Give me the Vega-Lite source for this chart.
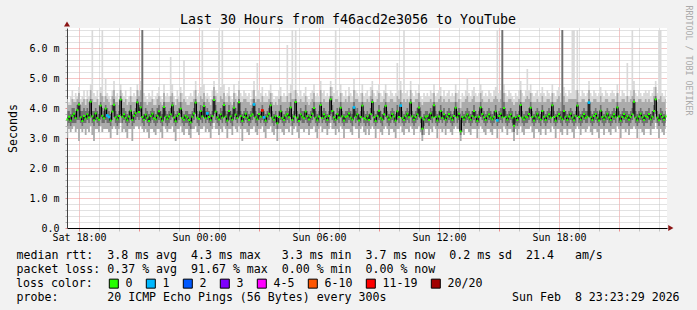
{
"$schema":"https://vega.github.io/schema/vega-lite/v6.json",
"width":600,"height":200,
"autosize":{"type":"none"},
"padding":{"left":67,"top":28,"right":30,"bottom":82},
"background":"#f2f2f2",
"config":{"view":{"fill":"white","stroke":null},"font":"DejaVu Sans Mono"},
"title":{"text":"Last 30 Hours from f46acd2e3056 to YouTube","font":"DejaVu Sans Mono","fontSize":13.3,"fontWeight":"normal","color":"black","anchor":"middle","frame":"group","dx":-19,"dy":36,"offset":4,"baseline":"alphabetic"},
"datasets":{
"smoke":[
{"m":1045,"d":3.62,"l":3.0,"a":3.4,"b":3.9,"q":4.1,"h":4.3},{"m":1050,"d":3.71,"l":3.3,"a":3.5,"b":3.9,"q":4.1,"h":4.2},{"m":1055,"d":3.58,"l":3.2,"a":3.4,"b":3.8,"q":4.1,"h":4.4},{"m":1060,"d":3.74,"l":3.3,"a":3.5,"b":4.0,"q":4.3,"h":4.6},{"m":1065,"d":3.81,"l":3.4,"a":3.5,"b":4.0,"q":4.2,"h":4.3},{"m":1070,"d":3.66,"l":3.2,"a":3.5,"b":3.9,"q":4.2,"h":4.5},{"m":1075,"d":3.93,"l":3.3,"a":3.6,"b":4.1,"q":4.3,"h":4.4},{"m":1080,"d":4.12,"l":2.9,"a":3.6,"b":4.2,"q":4.5,"h":4.7},{"m":1085,"d":3.69,"l":3.3,"a":3.5,"b":3.9,"q":4.1,"h":4.3},{"m":1090,"d":3.57,"l":3.2,"a":3.4,"b":3.9,"q":4.2,"h":4.4},{"m":1095,"d":3.73,"l":3.3,"a":3.5,"b":4.0,"q":4.3,"h":4.6},{"m":1100,"d":3.65,"l":3.1,"a":3.5,"b":3.9,"q":4.1,"h":4.3},
{"m":1105,"d":3.79,"l":3.3,"a":3.6,"b":4.0,"q":4.3,"h":4.6},{"m":1110,"d":3.68,"l":3.2,"a":3.5,"b":3.9,"q":4.2,"h":4.4},{"m":1115,"d":4.21,"l":3.4,"a":3.8,"b":4.3,"q":4.6,"h":4.8},{"m":1120,"d":3.72,"l":3.1,"a":3.5,"b":3.9,"q":4.3,"h":6.6},{"m":1125,"d":3.59,"l":2.9,"a":3.4,"b":3.9,"q":4.2,"h":4.5},{"m":1130,"d":3.82,"l":3.3,"a":3.6,"b":4.0,"q":4.2,"h":4.4},{"m":1135,"d":3.67,"l":3.3,"a":3.5,"b":3.9,"q":4.3,"h":4.6},{"m":1140,"d":3.61,"l":3.2,"a":3.4,"b":3.8,"q":4.1,"h":4.3},{"m":1145,"d":4.08,"l":3.4,"a":3.7,"b":4.2,"q":4.5,"h":4.7},{"m":1150,"d":3.74,"l":3.2,"a":3.5,"b":4.0,"q":4.4,"h":6.6},{"m":1155,"d":3.66,"l":3.3,"a":3.5,"b":3.9,"q":4.2,"h":4.4},{"m":1160,"d":3.98,"l":3.3,"a":3.6,"b":4.1,"q":4.4,"h":5.0},
{"m":1165,"d":3.75,"l":3.3,"a":3.5,"b":4.0,"q":4.3,"h":4.5},{"m":1170,"d":3.7,"l":3.2,"a":3.5,"b":3.9,"q":4.2,"h":4.4},{"m":1175,"d":3.58,"l":3.0,"a":3.4,"b":3.8,"q":4.1,"h":4.3},{"m":1180,"d":3.88,"l":3.3,"a":3.6,"b":4.1,"q":4.4,"h":4.6},{"m":1185,"d":4.11,"l":3.4,"a":3.7,"b":4.3,"q":4.6,"h":4.9},{"m":1190,"d":3.69,"l":3.3,"a":3.5,"b":3.9,"q":4.2,"h":4.4},{"m":1195,"d":3.62,"l":3.1,"a":3.4,"b":3.8,"q":4.2,"h":4.5},{"m":1200,"d":3.73,"l":3.3,"a":3.5,"b":3.9,"q":4.1,"h":4.3},{"m":1205,"d":4.28,"l":3.5,"a":3.8,"b":4.4,"q":4.6,"h":4.8},{"m":1210,"d":3.71,"l":3.2,"a":3.5,"b":4.0,"q":4.3,"h":4.5},{"m":1215,"d":3.79,"l":3.3,"a":3.6,"b":4.0,"q":4.2,"h":4.4},{"m":1220,"d":3.67,"l":3.2,"a":3.5,"b":3.9,"q":4.3,"h":4.6},
{"m":1225,"d":3.59,"l":3.0,"a":3.4,"b":3.8,"q":4.1,"h":4.3},{"m":1230,"d":3.72,"l":3.3,"a":3.5,"b":3.9,"q":4.2,"h":4.4},{"m":1235,"d":3.91,"l":3.3,"a":3.6,"b":4.1,"q":4.4,"h":4.7},{"m":1240,"d":3.6,"l":2.9,"a":3.4,"b":3.8,"q":4.2,"h":4.4},{"m":1245,"d":3.74,"l":3.3,"a":3.5,"b":3.9,"q":4.2,"h":4.5},{"m":1250,"d":3.83,"l":3.4,"a":3.6,"b":4.0,"q":4.2,"h":4.4},{"m":1255,"d":4.19,"l":3.4,"a":3.7,"b":4.3,"q":4.6,"h":4.8},{"m":1260,"d":3.87,"l":3.3,"a":3.6,"b":4.1,"q":4.4,"h":4.6},{"m":1265,"d":4.02,"l":3.4,"a":3.7,"b":4.2,"q":4.6,"h":4.9},{"m":1270,"d":3.7,"l":3.3,"a":3.5,"b":6.6,"q":6.6,"h":6.6},{"m":1275,"d":3.61,"l":3.2,"a":3.4,"b":3.8,"q":4.2,"h":4.5},{"m":1280,"d":3.78,"l":3.3,"a":3.6,"b":4.0,"q":4.2,"h":4.4},
{"m":1285,"d":3.68,"l":3.2,"a":3.5,"b":3.9,"q":4.1,"h":4.3},{"m":1290,"d":3.57,"l":3.0,"a":3.4,"b":3.8,"q":4.2,"h":4.5},{"m":1295,"d":3.73,"l":3.3,"a":3.5,"b":3.9,"q":4.2,"h":4.4},{"m":1300,"d":3.81,"l":3.3,"a":3.6,"b":4.0,"q":4.3,"h":4.6},{"m":1305,"d":3.66,"l":3.2,"a":3.5,"b":3.9,"q":4.1,"h":4.3},{"m":1310,"d":3.62,"l":3.1,"a":3.4,"b":3.8,"q":4.1,"h":4.4},{"m":1315,"d":3.74,"l":3.3,"a":3.5,"b":4.0,"q":4.3,"h":4.5},{"m":1320,"d":3.89,"l":3.3,"a":3.6,"b":4.1,"q":4.4,"h":4.7},{"m":1325,"d":3.69,"l":3.2,"a":3.5,"b":3.9,"q":4.2,"h":4.4},{"m":1330,"d":3.58,"l":3.0,"a":3.4,"b":3.8,"q":4.1,"h":4.3},{"m":1335,"d":4.03,"l":3.4,"a":3.7,"b":4.2,"q":4.5,"h":4.8},{"m":1340,"d":3.71,"l":3.3,"a":3.5,"b":3.9,"q":4.2,"h":4.4},
{"m":1345,"d":3.63,"l":3.2,"a":3.4,"b":3.8,"q":4.2,"h":4.5},{"m":1350,"d":3.72,"l":3.3,"a":3.5,"b":3.9,"q":4.2,"h":4.4},{"m":1355,"d":3.79,"l":3.3,"a":3.6,"b":4.0,"q":4.4,"h":5.7},{"m":1360,"d":4.09,"l":3.4,"a":3.7,"b":4.2,"q":4.5,"h":4.8},{"m":1365,"d":3.68,"l":3.2,"a":3.5,"b":3.9,"q":4.2,"h":4.4},{"m":1370,"d":3.56,"l":2.9,"a":3.4,"b":3.8,"q":4.1,"h":4.3},{"m":1375,"d":3.73,"l":3.3,"a":3.5,"b":3.9,"q":4.3,"h":4.6},{"m":1380,"d":3.8,"l":3.3,"a":3.6,"b":4.0,"q":4.2,"h":4.4},{"m":1385,"d":3.98,"l":3.4,"a":3.7,"b":4.2,"q":4.5,"h":4.7},{"m":1390,"d":3.67,"l":3.2,"a":3.5,"b":3.9,"q":4.2,"h":4.5},{"m":1395,"d":3.61,"l":3.1,"a":3.4,"b":3.8,"q":4.3,"h":5.6},{"m":1400,"d":3.74,"l":3.3,"a":3.5,"b":3.9,"q":4.2,"h":4.4},
{"m":1405,"d":3.69,"l":3.3,"a":3.5,"b":3.9,"q":4.1,"h":4.3},{"m":1410,"d":3.6,"l":3.1,"a":3.4,"b":3.8,"q":4.1,"h":4.4},{"m":1415,"d":3.52,"l":3.0,"a":3.3,"b":3.8,"q":4.2,"h":4.5},{"m":1420,"d":3.71,"l":3.3,"a":3.5,"b":3.9,"q":4.2,"h":4.4},{"m":1425,"d":3.82,"l":3.3,"a":3.6,"b":4.0,"q":4.3,"h":4.6},{"m":1430,"d":4.18,"l":3.4,"a":3.8,"b":4.3,"q":4.6,"h":4.9},{"m":1435,"d":3.68,"l":3.2,"a":3.5,"b":3.9,"q":4.2,"h":4.4},{"m":1440,"d":3.63,"l":3.1,"a":3.4,"b":3.8,"q":4.2,"h":4.5},{"m":1445,"d":3.9,"l":3.3,"a":3.6,"b":4.1,"q":4.4,"h":4.7},{"m":1450,"d":3.72,"l":3.3,"a":3.5,"b":3.9,"q":4.3,"h":6.6},{"m":1455,"d":4.07,"l":3.4,"a":3.7,"b":4.2,"q":4.5,"h":4.8},{"m":1460,"d":3.66,"l":3.2,"a":3.5,"b":3.9,"q":4.2,"h":4.4},
{"m":1465,"d":3.82,"l":3.3,"a":3.6,"b":4.0,"q":4.3,"h":4.5},{"m":1470,"d":3.7,"l":3.2,"a":3.5,"b":3.9,"q":4.2,"h":4.4},{"m":1475,"d":3.59,"l":3.0,"a":3.4,"b":3.8,"q":4.1,"h":4.3},{"m":1480,"d":3.73,"l":3.3,"a":3.5,"b":3.9,"q":4.3,"h":4.6},{"m":1485,"d":4.27,"l":3.5,"a":3.8,"b":4.4,"q":4.7,"h":4.9},{"m":1490,"d":3.88,"l":3.3,"a":3.6,"b":4.1,"q":4.4,"h":4.6},{"m":1495,"d":3.69,"l":3.3,"a":3.5,"b":3.9,"q":4.2,"h":4.5},{"m":1500,"d":3.62,"l":3.1,"a":3.4,"b":3.8,"q":4.2,"h":6.6},{"m":1505,"d":3.79,"l":3.3,"a":3.6,"b":4.0,"q":4.4,"h":4.7},{"m":1510,"d":3.68,"l":3.2,"a":3.5,"b":3.9,"q":4.3,"h":6.6},{"m":1515,"d":4.1,"l":3.4,"a":3.7,"b":4.2,"q":4.5,"h":4.8},{"m":1520,"d":3.71,"l":3.3,"a":3.5,"b":3.9,"q":4.2,"h":4.4},
{"m":1525,"d":3.58,"l":3.0,"a":3.4,"b":3.8,"q":4.2,"h":4.5},{"m":1530,"d":3.9,"l":3.3,"a":3.6,"b":4.1,"q":4.4,"h":4.7},{"m":1535,"d":3.72,"l":3.3,"a":3.5,"b":3.9,"q":4.2,"h":4.4},{"m":1540,"d":3.61,"l":3.1,"a":3.4,"b":3.8,"q":4.1,"h":4.3},{"m":1545,"d":4.01,"l":3.4,"a":3.7,"b":4.2,"q":4.5,"h":4.8},{"m":1550,"d":3.78,"l":3.3,"a":3.6,"b":4.0,"q":4.3,"h":4.5},{"m":1555,"d":3.67,"l":3.2,"a":3.5,"b":3.9,"q":4.2,"h":4.4},{"m":1560,"d":4.19,"l":3.4,"a":3.8,"b":4.3,"q":4.6,"h":4.9},{"m":1565,"d":3.73,"l":3.3,"a":3.5,"b":3.9,"q":4.2,"h":4.5},{"m":1570,"d":3.57,"l":2.9,"a":3.4,"b":3.8,"q":4.2,"h":4.4},{"m":1575,"d":3.7,"l":3.3,"a":3.5,"b":3.9,"q":4.3,"h":4.6},{"m":1580,"d":3.81,"l":3.3,"a":3.6,"b":4.0,"q":4.3,"h":4.5},
{"m":1585,"d":3.68,"l":3.2,"a":3.5,"b":3.9,"q":4.2,"h":4.4},{"m":1590,"d":3.6,"l":3.1,"a":3.4,"b":3.8,"q":4.2,"h":4.5},{"m":1595,"d":3.74,"l":3.3,"a":3.5,"b":3.9,"q":4.1,"h":4.3},{"m":1600,"d":3.79,"l":3.3,"a":3.6,"b":4.0,"q":4.3,"h":4.6},{"m":1605,"d":4.12,"l":3.4,"a":3.7,"b":4.3,"q":4.6,"h":4.9},{"m":1610,"d":3.69,"l":3.2,"a":3.5,"b":3.9,"q":4.2,"h":4.4},{"m":1615,"d":3.62,"l":3.1,"a":3.4,"b":3.8,"q":4.3,"h":5.5},{"m":1620,"d":3.8,"l":3.3,"a":3.6,"b":4.0,"q":4.3,"h":4.6},{"m":1625,"d":3.71,"l":3.3,"a":3.5,"b":3.9,"q":4.2,"h":4.5},{"m":1630,"d":3.92,"l":3.4,"a":3.6,"b":4.1,"q":4.4,"h":4.7},{"m":1635,"d":3.69,"l":3.2,"a":3.5,"b":3.9,"q":4.2,"h":4.4},{"m":1640,"d":3.58,"l":3.0,"a":3.4,"b":3.8,"q":4.2,"h":4.5},
{"m":1645,"d":3.72,"l":3.3,"a":3.5,"b":3.9,"q":4.2,"h":4.4},{"m":1650,"d":3.81,"l":3.3,"a":3.6,"b":4.0,"q":4.3,"h":4.6},{"m":1655,"d":4.09,"l":3.4,"a":3.7,"b":4.2,"q":4.5,"h":4.8},{"m":1660,"d":3.68,"l":3.2,"a":3.5,"b":3.9,"q":4.2,"h":4.5},{"m":1665,"d":3.61,"l":3.1,"a":3.4,"b":3.8,"q":4.1,"h":4.3},{"m":1670,"d":3.73,"l":3.3,"a":3.5,"b":3.9,"q":4.2,"h":4.4},{"m":1675,"d":3.49,"l":2.9,"a":3.3,"b":3.7,"q":4.1,"h":4.4},{"m":1680,"d":3.7,"l":3.3,"a":3.5,"b":3.9,"q":4.3,"h":4.6},{"m":1685,"d":3.89,"l":3.3,"a":3.6,"b":4.1,"q":4.4,"h":4.7},{"m":1690,"d":3.67,"l":3.2,"a":3.5,"b":3.9,"q":4.2,"h":4.4},{"m":1695,"d":3.6,"l":3.1,"a":3.4,"b":3.8,"q":4.2,"h":4.5},{"m":1700,"d":3.74,"l":3.3,"a":3.5,"b":3.9,"q":4.2,"h":4.4},
{"m":1705,"d":3.8,"l":3.3,"a":3.6,"b":4.0,"q":4.4,"h":6.1},{"m":1710,"d":3.69,"l":3.2,"a":3.5,"b":3.9,"q":4.2,"h":4.5},{"m":1715,"d":4.02,"l":3.4,"a":3.7,"b":4.2,"q":4.5,"h":4.8},{"m":1720,"d":3.6,"l":3.1,"a":3.4,"b":3.8,"q":4.3,"h":6.6},{"m":1725,"d":3.72,"l":3.3,"a":3.5,"b":3.9,"q":4.3,"h":4.6},{"m":1730,"d":4.2,"l":3.4,"a":3.8,"b":4.3,"q":4.6,"h":6.6},{"m":1735,"d":3.68,"l":3.2,"a":3.5,"b":3.9,"q":4.2,"h":4.5},{"m":1740,"d":3.57,"l":3.0,"a":3.4,"b":3.8,"q":4.2,"h":4.4},{"m":1745,"d":3.79,"l":3.3,"a":3.6,"b":4.0,"q":4.3,"h":4.6},{"m":1750,"d":3.71,"l":3.3,"a":3.5,"b":3.9,"q":4.2,"h":4.4},{"m":1755,"d":3.66,"l":3.2,"a":3.5,"b":3.9,"q":4.2,"h":4.5},{"m":1760,"d":3.88,"l":3.3,"a":3.6,"b":4.1,"q":4.4,"h":4.7},
{"m":1765,"d":3.73,"l":3.3,"a":3.5,"b":3.9,"q":4.2,"h":4.4},{"m":1770,"d":3.62,"l":3.1,"a":3.4,"b":3.8,"q":4.1,"h":4.3},{"m":1775,"d":3.7,"l":3.3,"a":3.5,"b":3.9,"q":4.2,"h":4.5},{"m":1780,"d":3.81,"l":3.3,"a":3.6,"b":4.0,"q":4.3,"h":4.6},{"m":1785,"d":4.0,"l":3.4,"a":3.7,"b":4.2,"q":4.5,"h":4.8},{"m":1790,"d":3.68,"l":3.2,"a":3.5,"b":3.9,"q":4.2,"h":4.4},{"m":1795,"d":3.59,"l":3.0,"a":3.4,"b":3.8,"q":4.2,"h":4.5},{"m":1800,"d":3.72,"l":3.3,"a":3.5,"b":3.9,"q":4.2,"h":4.4},{"m":1805,"d":4.1,"l":3.4,"a":3.7,"b":4.2,"q":4.6,"h":4.9},{"m":1810,"d":3.67,"l":3.2,"a":3.5,"b":3.9,"q":4.2,"h":4.5},{"m":1815,"d":3.79,"l":3.3,"a":3.6,"b":4.0,"q":4.3,"h":4.6},{"m":1820,"d":3.71,"l":3.3,"a":3.5,"b":3.9,"q":4.2,"h":4.4},
{"m":1825,"d":3.6,"l":3.1,"a":3.4,"b":3.8,"q":4.2,"h":4.5},{"m":1830,"d":3.73,"l":3.3,"a":3.5,"b":3.9,"q":4.2,"h":4.4},{"m":1835,"d":4.29,"l":3.5,"a":3.8,"b":4.4,"q":4.7,"h":4.9},{"m":1840,"d":3.9,"l":3.3,"a":3.6,"b":4.1,"q":4.4,"h":4.7},{"m":1845,"d":3.69,"l":3.3,"a":3.5,"b":3.9,"q":4.2,"h":4.5},{"m":1850,"d":3.61,"l":3.1,"a":3.4,"b":3.8,"q":4.3,"h":6.6},{"m":1855,"d":3.8,"l":3.3,"a":3.6,"b":4.0,"q":4.3,"h":4.6},{"m":1860,"d":3.68,"l":3.2,"a":3.5,"b":3.9,"q":4.2,"h":4.4},{"m":1865,"d":4.01,"l":3.4,"a":3.7,"b":4.2,"q":4.5,"h":4.8},{"m":1870,"d":3.72,"l":3.3,"a":3.5,"b":3.9,"q":4.2,"h":4.5},{"m":1875,"d":3.58,"l":3.0,"a":3.4,"b":3.8,"q":4.2,"h":4.4},{"m":1880,"d":3.7,"l":3.3,"a":3.5,"b":3.9,"q":4.3,"h":4.6},
{"m":1885,"d":3.73,"l":3.3,"a":3.5,"b":3.9,"q":4.2,"h":4.4},{"m":1890,"d":3.82,"l":3.3,"a":3.6,"b":4.0,"q":4.4,"h":4.7},{"m":1895,"d":3.68,"l":3.2,"a":3.5,"b":3.9,"q":4.2,"h":4.5},{"m":1900,"d":3.61,"l":3.1,"a":3.4,"b":3.8,"q":4.2,"h":4.4},{"m":1905,"d":4.02,"l":3.4,"a":3.7,"b":4.2,"q":4.6,"h":5.0},{"m":1910,"d":3.71,"l":3.3,"a":3.5,"b":3.9,"q":4.3,"h":4.6},{"m":1915,"d":3.79,"l":3.3,"a":3.6,"b":4.0,"q":4.3,"h":4.5},{"m":1920,"d":3.58,"l":3.0,"a":3.4,"b":3.8,"q":4.2,"h":4.4},{"m":1925,"d":3.7,"l":3.3,"a":3.5,"b":3.9,"q":4.2,"h":4.5},{"m":1930,"d":4.08,"l":3.4,"a":3.7,"b":4.2,"q":4.5,"h":4.8},{"m":1935,"d":3.66,"l":3.2,"a":3.5,"b":3.9,"q":4.2,"h":4.4},{"m":1940,"d":3.62,"l":3.1,"a":3.4,"b":3.8,"q":4.2,"h":4.5},
{"m":1945,"d":3.72,"l":3.3,"a":3.5,"b":3.9,"q":4.3,"h":4.6},{"m":1950,"d":3.6,"l":3.1,"a":3.4,"b":3.8,"q":4.2,"h":4.4},{"m":1955,"d":3.8,"l":3.3,"a":3.6,"b":4.0,"q":4.4,"h":4.7},{"m":1960,"d":4.2,"l":3.4,"a":3.8,"b":4.3,"q":4.6,"h":4.9},{"m":1965,"d":3.69,"l":3.3,"a":3.5,"b":3.9,"q":4.2,"h":4.5},{"m":1970,"d":3.57,"l":3.0,"a":3.4,"b":3.8,"q":4.2,"h":4.4},{"m":1975,"d":3.73,"l":3.3,"a":3.5,"b":3.9,"q":4.3,"h":4.6},{"m":1980,"d":3.91,"l":3.3,"a":3.6,"b":4.1,"q":4.5,"h":4.8},{"m":1985,"d":3.67,"l":3.2,"a":3.5,"b":3.9,"q":4.2,"h":4.5},{"m":1990,"d":3.61,"l":3.1,"a":3.4,"b":3.8,"q":4.2,"h":4.4},{"m":1995,"d":3.79,"l":3.3,"a":3.6,"b":4.0,"q":4.3,"h":4.6},{"m":2000,"d":4.07,"l":3.4,"a":3.7,"b":4.2,"q":4.5,"h":4.8},
{"m":2005,"d":3.71,"l":3.3,"a":3.5,"b":3.9,"q":4.2,"h":4.5},{"m":2010,"d":3.62,"l":3.1,"a":3.4,"b":3.8,"q":4.2,"h":4.4},{"m":2015,"d":3.68,"l":3.3,"a":3.5,"b":3.9,"q":4.3,"h":4.6},{"m":2020,"d":3.8,"l":3.3,"a":3.6,"b":4.0,"q":4.3,"h":4.5},{"m":2025,"d":3.72,"l":3.2,"a":3.5,"b":3.9,"q":4.2,"h":4.4},{"m":2030,"d":3.58,"l":3.0,"a":3.4,"b":3.8,"q":4.2,"h":4.5},{"m":2035,"d":3.89,"l":3.3,"a":3.6,"b":4.1,"q":4.4,"h":5.5},{"m":2040,"d":3.7,"l":3.3,"a":3.5,"b":3.9,"q":4.3,"h":4.6},{"m":2045,"d":4.08,"l":3.4,"a":3.7,"b":4.2,"q":4.6,"h":4.9},{"m":2050,"d":3.67,"l":3.2,"a":3.5,"b":3.9,"q":4.2,"h":4.5},{"m":2055,"d":3.6,"l":3.1,"a":3.4,"b":3.8,"q":4.3,"h":6.6},{"m":2060,"d":3.73,"l":3.3,"a":3.5,"b":3.9,"q":4.2,"h":4.5},
{"m":2065,"d":3.81,"l":3.3,"a":3.6,"b":4.0,"q":4.3,"h":4.6},{"m":2070,"d":3.69,"l":3.2,"a":3.5,"b":3.9,"q":4.2,"h":4.4},{"m":2075,"d":4.18,"l":3.4,"a":3.8,"b":4.3,"q":4.6,"h":4.9},{"m":2080,"d":3.72,"l":3.3,"a":3.5,"b":3.9,"q":4.2,"h":4.5},{"m":2085,"d":3.61,"l":3.1,"a":3.4,"b":3.8,"q":4.2,"h":4.4},{"m":2090,"d":3.7,"l":3.3,"a":3.5,"b":3.9,"q":4.3,"h":4.6},{"m":2095,"d":3.79,"l":3.3,"a":3.6,"b":4.0,"q":4.3,"h":4.5},{"m":2100,"d":4.02,"l":3.4,"a":3.7,"b":4.2,"q":4.5,"h":4.8},{"m":2105,"d":3.68,"l":3.2,"a":3.5,"b":3.9,"q":4.2,"h":4.4},{"m":2110,"d":3.31,"l":2.9,"a":3.1,"b":3.7,"q":4.1,"h":4.3},{"m":2115,"d":3.62,"l":3.1,"a":3.4,"b":3.8,"q":4.2,"h":4.5},{"m":2120,"d":3.71,"l":3.3,"a":3.5,"b":3.9,"q":4.2,"h":4.4},
{"m":2125,"d":3.73,"l":3.3,"a":3.5,"b":3.9,"q":4.2,"h":4.5},{"m":2130,"d":3.6,"l":3.1,"a":3.4,"b":3.8,"q":4.2,"h":4.4},{"m":2135,"d":3.82,"l":3.3,"a":3.6,"b":4.0,"q":4.3,"h":4.6},{"m":2140,"d":3.69,"l":3.2,"a":3.5,"b":3.9,"q":4.2,"h":4.5},{"m":2145,"d":4.09,"l":3.4,"a":3.7,"b":4.2,"q":4.5,"h":4.8},{"m":2150,"d":3.7,"l":3.3,"a":3.5,"b":3.9,"q":4.2,"h":4.4},{"m":2155,"d":3.58,"l":3.0,"a":3.4,"b":3.8,"q":4.2,"h":4.5},{"m":2160,"d":3.72,"l":3.3,"a":3.5,"b":3.9,"q":4.3,"h":4.6},{"m":2165,"d":3.9,"l":3.3,"a":3.6,"b":4.1,"q":4.4,"h":4.7},{"m":2170,"d":3.67,"l":3.2,"a":3.5,"b":3.9,"q":4.2,"h":4.4},{"m":2175,"d":3.79,"l":3.3,"a":3.6,"b":4.0,"q":4.3,"h":4.6},{"m":2180,"d":3.61,"l":3.1,"a":3.4,"b":3.8,"q":4.2,"h":4.4},
{"m":2185,"d":3.71,"l":3.3,"a":3.5,"b":3.9,"q":4.2,"h":4.5},{"m":2190,"d":3.8,"l":3.3,"a":3.6,"b":4.0,"q":4.3,"h":4.6},{"m":2195,"d":3.68,"l":3.2,"a":3.5,"b":3.9,"q":4.2,"h":4.4},{"m":2200,"d":3.6,"l":3.1,"a":3.4,"b":3.8,"q":4.2,"h":4.5},{"m":2205,"d":3.73,"l":3.3,"a":3.5,"b":3.9,"q":4.2,"h":4.4},{"m":2210,"d":4.01,"l":3.4,"a":3.7,"b":4.2,"q":4.5,"h":4.8},{"m":2215,"d":3.69,"l":3.3,"a":3.5,"b":3.9,"q":4.2,"h":4.5},{"m":2220,"d":3.81,"l":3.3,"a":3.6,"b":4.0,"q":4.3,"h":4.6},{"m":2225,"d":3.22,"l":2.9,"a":3.1,"b":3.6,"q":4.0,"h":4.3},{"m":2230,"d":3.7,"l":3.2,"a":3.5,"b":3.9,"q":4.2,"h":4.5},{"m":2235,"d":3.62,"l":3.1,"a":3.4,"b":3.8,"q":4.2,"h":4.4},{"m":2240,"d":3.72,"l":3.3,"a":3.5,"b":3.9,"q":4.3,"h":4.6},
{"m":2245,"d":3.79,"l":3.3,"a":3.6,"b":4.0,"q":4.4,"h":5.0},{"m":2250,"d":3.68,"l":3.2,"a":3.5,"b":3.9,"q":4.2,"h":4.5},{"m":2255,"d":3.61,"l":3.1,"a":3.4,"b":3.8,"q":4.2,"h":4.4},{"m":2260,"d":3.73,"l":3.3,"a":3.5,"b":3.9,"q":4.3,"h":4.6},{"m":2265,"d":3.9,"l":3.3,"a":3.6,"b":4.1,"q":4.4,"h":4.7},{"m":2270,"d":3.7,"l":3.3,"a":3.5,"b":3.9,"q":4.2,"h":4.5},{"m":2275,"d":3.57,"l":3.0,"a":3.4,"b":3.8,"q":4.2,"h":4.4},{"m":2280,"d":3.71,"l":3.3,"a":3.5,"b":3.9,"q":4.2,"h":4.5},{"m":2285,"d":4.02,"l":3.4,"a":3.7,"b":4.2,"q":4.5,"h":4.8},{"m":2290,"d":3.8,"l":3.3,"a":3.6,"b":4.0,"q":4.3,"h":4.6},{"m":2295,"d":3.69,"l":3.2,"a":3.5,"b":3.9,"q":4.2,"h":4.4},{"m":2300,"d":3.6,"l":3.1,"a":3.4,"b":3.8,"q":4.2,"h":4.5},
{"m":2305,"d":3.72,"l":3.3,"a":3.5,"b":3.9,"q":4.2,"h":4.4},{"m":2310,"d":3.79,"l":3.3,"a":3.6,"b":4.0,"q":4.3,"h":4.6},{"m":2315,"d":3.68,"l":3.2,"a":3.5,"b":3.9,"q":4.2,"h":4.5},{"m":2320,"d":3.62,"l":3.1,"a":3.4,"b":3.8,"q":4.2,"h":4.4},{"m":2325,"d":3.71,"l":3.3,"a":3.5,"b":3.9,"q":4.3,"h":4.6},{"m":2330,"d":3.89,"l":3.3,"a":3.6,"b":4.1,"q":4.4,"h":4.7},{"m":2335,"d":3.59,"l":3.0,"a":3.4,"b":3.8,"q":4.3,"h":6.6},{"m":2340,"d":3.73,"l":3.3,"a":3.5,"b":3.9,"q":4.2,"h":4.5},{"m":2345,"d":3.81,"l":3.3,"a":3.6,"b":4.0,"q":4.3,"h":4.6},{"m":2350,"d":3.69,"l":3.2,"a":3.5,"b":6.6,"q":6.6,"h":6.6},{"m":2355,"d":4.0,"l":3.4,"a":3.7,"b":4.2,"q":4.5,"h":4.8},{"m":2360,"d":3.7,"l":3.3,"a":3.5,"b":3.9,"q":4.2,"h":4.5},
{"m":2365,"d":3.61,"l":3.1,"a":3.4,"b":3.8,"q":4.2,"h":4.4},{"m":2370,"d":3.72,"l":3.3,"a":3.5,"b":3.9,"q":4.3,"h":4.6},{"m":2375,"d":3.79,"l":3.3,"a":3.6,"b":4.0,"q":4.3,"h":4.5},{"m":2380,"d":3.68,"l":3.2,"a":3.5,"b":3.9,"q":4.2,"h":4.4},{"m":2385,"d":3.41,"l":2.9,"a":3.2,"b":3.7,"q":4.1,"h":4.3},{"m":2390,"d":3.7,"l":3.3,"a":3.5,"b":3.9,"q":4.2,"h":4.5},{"m":2395,"d":3.6,"l":3.1,"a":3.4,"b":3.8,"q":4.2,"h":4.4},{"m":2400,"d":3.73,"l":3.3,"a":3.5,"b":3.9,"q":4.3,"h":4.6},{"m":2405,"d":4.1,"l":3.4,"a":3.7,"b":4.2,"q":4.6,"h":4.9},{"m":2410,"d":3.68,"l":3.2,"a":3.5,"b":3.9,"q":4.2,"h":4.5},{"m":2415,"d":3.62,"l":3.1,"a":3.4,"b":3.8,"q":4.2,"h":4.4},{"m":2420,"d":3.71,"l":3.3,"a":3.5,"b":3.9,"q":4.3,"h":4.6},
{"m":2425,"d":3.69,"l":3.3,"a":3.5,"b":3.9,"q":4.4,"h":5.3},{"m":2430,"d":3.8,"l":3.3,"a":3.6,"b":4.0,"q":4.3,"h":4.6},{"m":2435,"d":4.01,"l":3.4,"a":3.7,"b":4.2,"q":4.5,"h":4.8},{"m":2440,"d":3.7,"l":3.2,"a":3.5,"b":3.9,"q":4.2,"h":4.5},{"m":2445,"d":3.58,"l":3.0,"a":3.4,"b":3.8,"q":4.2,"h":4.4},{"m":2450,"d":3.72,"l":3.3,"a":3.5,"b":3.9,"q":4.2,"h":4.5},{"m":2455,"d":3.81,"l":3.3,"a":3.6,"b":4.0,"q":4.3,"h":4.6},{"m":2460,"d":3.68,"l":3.2,"a":3.5,"b":3.9,"q":4.2,"h":4.4},{"m":2465,"d":3.61,"l":3.1,"a":3.4,"b":3.8,"q":4.2,"h":4.5},{"m":2470,"d":3.9,"l":3.3,"a":3.6,"b":4.1,"q":4.4,"h":4.7},{"m":2475,"d":3.71,"l":3.3,"a":3.5,"b":3.9,"q":4.2,"h":4.5},{"m":2480,"d":3.6,"l":3.1,"a":3.4,"b":3.8,"q":4.2,"h":4.4},
{"m":2485,"d":3.72,"l":3.3,"a":3.5,"b":3.9,"q":4.3,"h":4.6},{"m":2490,"d":3.79,"l":3.3,"a":3.6,"b":4.0,"q":4.3,"h":4.5},{"m":2495,"d":3.68,"l":3.2,"a":3.5,"b":3.9,"q":4.2,"h":4.4},{"m":2500,"d":4.09,"l":3.4,"a":3.7,"b":4.2,"q":4.5,"h":4.8},{"m":2505,"d":3.7,"l":3.3,"a":3.5,"b":3.9,"q":4.2,"h":4.5},{"m":2510,"d":3.58,"l":3.0,"a":3.4,"b":3.8,"q":4.2,"h":4.4},{"m":2515,"d":3.73,"l":3.3,"a":3.5,"b":3.9,"q":4.3,"h":4.6},{"m":2520,"d":3.8,"l":3.3,"a":3.6,"b":4.0,"q":4.4,"h":4.7},{"m":2525,"d":3.69,"l":3.2,"a":3.5,"b":3.9,"q":4.2,"h":4.5},{"m":2530,"d":3.62,"l":3.1,"a":3.4,"b":6.6,"q":6.6,"h":6.6},{"m":2535,"d":3.9,"l":3.3,"a":3.6,"b":4.1,"q":4.4,"h":4.7},{"m":2540,"d":3.71,"l":3.3,"a":3.5,"b":3.9,"q":4.2,"h":4.5},
{"m":2545,"d":3.6,"l":3.1,"a":3.4,"b":3.8,"q":4.2,"h":4.4},{"m":2550,"d":3.72,"l":3.3,"a":3.5,"b":3.9,"q":4.3,"h":4.6},{"m":2555,"d":3.81,"l":3.3,"a":3.6,"b":4.0,"q":4.3,"h":4.5},{"m":2560,"d":3.68,"l":3.2,"a":3.5,"b":3.9,"q":4.3,"h":6.6},{"m":2565,"d":3.59,"l":3.0,"a":3.4,"b":3.8,"q":4.3,"h":6.6},{"m":2570,"d":3.73,"l":3.3,"a":3.5,"b":3.9,"q":4.3,"h":4.6},{"m":2575,"d":4.08,"l":3.4,"a":3.7,"b":4.2,"q":4.6,"h":6.6},{"m":2580,"d":3.7,"l":3.3,"a":3.5,"b":3.9,"q":4.2,"h":4.5},{"m":2585,"d":3.61,"l":3.1,"a":3.4,"b":3.8,"q":4.2,"h":4.4},{"m":2590,"d":3.72,"l":3.3,"a":3.5,"b":3.9,"q":4.3,"h":4.6},{"m":2595,"d":3.8,"l":3.3,"a":3.6,"b":4.0,"q":4.3,"h":4.5},{"m":2600,"d":3.67,"l":3.2,"a":3.5,"b":3.9,"q":4.2,"h":4.4},
{"m":2605,"d":3.71,"l":3.3,"a":3.5,"b":3.9,"q":4.2,"h":4.5},{"m":2610,"d":4.18,"l":3.4,"a":3.7,"b":4.3,"q":4.6,"h":4.9},{"m":2615,"d":3.69,"l":3.2,"a":3.5,"b":3.9,"q":4.2,"h":4.5},{"m":2620,"d":3.6,"l":3.1,"a":3.4,"b":3.8,"q":4.2,"h":4.4},{"m":2625,"d":3.73,"l":3.3,"a":3.5,"b":3.9,"q":4.3,"h":4.6},{"m":2630,"d":3.8,"l":3.3,"a":3.6,"b":4.0,"q":4.3,"h":4.5},{"m":2635,"d":3.68,"l":3.2,"a":3.5,"b":3.9,"q":4.2,"h":4.4},{"m":2640,"d":3.58,"l":3.0,"a":3.4,"b":3.8,"q":4.2,"h":4.5},{"m":2645,"d":3.91,"l":3.3,"a":3.6,"b":4.1,"q":4.4,"h":4.7},{"m":2650,"d":3.7,"l":3.3,"a":3.5,"b":3.9,"q":4.2,"h":4.5},{"m":2655,"d":3.62,"l":3.1,"a":3.4,"b":3.8,"q":4.2,"h":4.4},{"m":2660,"d":3.72,"l":3.3,"a":3.5,"b":3.9,"q":4.3,"h":4.6},
{"m":2665,"d":3.81,"l":3.3,"a":3.6,"b":4.0,"q":4.3,"h":4.5},{"m":2670,"d":3.68,"l":3.2,"a":3.5,"b":3.9,"q":4.2,"h":4.4},{"m":2675,"d":3.6,"l":3.1,"a":3.4,"b":3.8,"q":4.2,"h":4.5},{"m":2680,"d":3.71,"l":3.3,"a":3.5,"b":3.9,"q":4.3,"h":4.6},{"m":2685,"d":3.79,"l":3.3,"a":3.6,"b":4.0,"q":4.3,"h":4.5},{"m":2690,"d":3.69,"l":3.2,"a":3.5,"b":3.9,"q":4.2,"h":4.4},{"m":2695,"d":4.02,"l":3.4,"a":3.7,"b":4.2,"q":4.5,"h":4.8},{"m":2700,"d":3.72,"l":3.3,"a":3.5,"b":3.9,"q":4.2,"h":4.5},{"m":2705,"d":3.58,"l":3.0,"a":3.4,"b":3.8,"q":4.2,"h":4.4},{"m":2710,"d":3.7,"l":3.3,"a":3.5,"b":3.9,"q":4.3,"h":4.6},{"m":2715,"d":3.8,"l":3.3,"a":3.6,"b":4.0,"q":4.3,"h":4.5},{"m":2720,"d":3.67,"l":3.2,"a":3.5,"b":3.9,"q":4.2,"h":4.4},
{"m":2725,"d":3.73,"l":3.3,"a":3.5,"b":3.9,"q":4.4,"h":5.5},{"m":2730,"d":3.61,"l":3.1,"a":3.4,"b":3.8,"q":4.2,"h":4.4},{"m":2735,"d":3.7,"l":3.3,"a":3.5,"b":3.9,"q":4.3,"h":4.6},{"m":2740,"d":3.79,"l":3.3,"a":3.6,"b":4.0,"q":4.4,"h":6.6},{"m":2745,"d":4.21,"l":3.4,"a":3.8,"b":4.3,"q":4.6,"h":4.9},{"m":2750,"d":3.68,"l":3.3,"a":3.5,"b":3.9,"q":4.2,"h":4.5},{"m":2755,"d":3.59,"l":3.0,"a":3.4,"b":3.8,"q":4.2,"h":4.4},{"m":2760,"d":3.72,"l":3.3,"a":3.5,"b":3.9,"q":4.3,"h":4.6},{"m":2765,"d":3.81,"l":3.3,"a":3.6,"b":4.0,"q":4.3,"h":4.5},{"m":2770,"d":3.69,"l":3.2,"a":3.5,"b":3.9,"q":4.2,"h":4.4},{"m":2775,"d":3.6,"l":3.1,"a":3.4,"b":3.8,"q":4.2,"h":4.5},{"m":2780,"d":3.73,"l":3.3,"a":3.5,"b":3.9,"q":4.3,"h":4.6},
{"m":2785,"d":3.7,"l":3.3,"a":3.5,"b":3.9,"q":4.2,"h":4.5},{"m":2790,"d":3.8,"l":3.3,"a":3.6,"b":4.0,"q":4.3,"h":4.6},{"m":2795,"d":3.62,"l":3.1,"a":3.4,"b":3.8,"q":4.2,"h":4.4},{"m":2800,"d":3.71,"l":3.3,"a":3.5,"b":3.9,"q":4.2,"h":4.5},{"m":2805,"d":3.9,"l":3.3,"a":3.6,"b":4.1,"q":4.4,"h":4.7},{"m":2810,"d":4.29,"l":3.5,"a":3.8,"b":4.4,"q":4.7,"h":4.9},{"m":2815,"d":3.68,"l":3.3,"a":3.5,"b":3.9,"q":4.2,"h":4.5},{"m":2820,"d":3.59,"l":3.0,"a":3.4,"b":3.8,"q":4.3,"h":6.6},{"m":2825,"d":3.79,"l":3.3,"a":3.6,"b":4.0,"q":4.4,"h":6.6},{"m":2830,"d":3.7,"l":3.2,"a":3.5,"b":3.9,"q":4.2,"h":4.5},{"m":2835,"d":3.61,"l":3.1,"a":3.4,"b":3.8,"q":4.2,"h":4.4},{"m":2840,"d":3.72,"l":3.3,"a":3.5,"b":3.9,"q":4.3,"h":4.6}
],
"loss":[
{"m":1165,"d":3.75,"c":"1"},{"m":1170,"d":3.7,"c":"1"},{"m":1465,"d":3.82,"c":"1"},{"m":1605,"d":4.12,"c":"1"},{"m":1630,"d":3.92,"c":"11-19"},{"m":1635,"d":3.69,"c":"1"},{"m":1905,"d":4.02,"c":"1"},{"m":2045,"d":4.08,"c":"1"},{"m":2335,"d":3.59,"c":"1"},{"m":2610,"d":4.18,"c":"1"}
],
"arrows":[
{"m":1044,"y":6.8,"s":"triangle-up"},{"m":2855.5,"y":0,"s":"triangle-right"}
]
},
"resolve":{"axis":{"x":"independent","y":"independent"}},
"layer":[
{
"data":{"name":"smoke"},
"mark":{"type":"area","interpolate":"step","color":"#d9d9d9"},
"encoding":{
"x":{"field":"m","type":"quantitative","scale":{"domain":[1044,2844],"nice":false,"zero":false},
 "axis":{"orient":"bottom","values":[1080,1140,1200,1260,1320,1380,1440,1500,1560,1620,1680,1740,1800,1860,1920,1980,2040,2100,2160,2220,2280,2340,2400,2460,2520,2580,2640,2700,2760,2820],
  "labelExpr":"datum.value % 360 == 0 ? ((datum.value < 1440 ? 'Sat ' : 'Sun ') + (floor((datum.value % 1440) / 60) < 10 ? '0' : '') + floor((datum.value % 1440) / 60) + ':00') : ''",
  "labelFont":"DejaVu Sans Mono","labelFontSize":10,"labelColor":"black","labelPadding":1,"labelOverlap":false,"labelFlush":false,
  "grid":true,"gridDash":[1,1],"gridOpacity":1,
  "gridColor":{"condition":{"test":"datum.value % 180 == 0","value":"#ea8f8f"},"value":"#c4c4c4"},
  "tickSize":3,"tickColor":{"condition":{"test":"datum.value % 180 == 0","value":"#ea8f8f"},"value":"#c4c4c4"},
  "domainColor":"black","domainWidth":1,
  "title":["median rtt:\u00a0\u00a03.8 ms avg\u00a0\u00a04.3 ms max\u00a0\u00a0\u00a03.3 ms min\u00a0\u00a03.7 ms now\u00a0\u00a00.2 ms sd\u00a0\u00a021.4\u00a0\u00a0\u00a0am/s","packet loss: 0.37 % avg\u00a0\u00a091.67 % max\u00a0\u00a00.00 % min\u00a0\u00a00.00 % now"],
  "titleFont":"DejaVu Sans Mono","titleFontSize":11.6,"titleFontWeight":"normal","titleColor":"black","titleAlign":"left","titleAnchor":"start","titleBaseline":"alphabetic","titleLineHeight":14,"titleX":-51,"titleY":30.5}},
"y":{"field":"l","type":"quantitative","scale":{"domain":[0,6.6667],"nice":false,"zero":true},
 "axis":{"orient":"left","values":[0,0.2,0.4,0.6,0.8,1,1.2,1.4,1.6,1.8,2,2.2,2.4,2.6,2.8,3,3.2,3.4,3.6,3.8,4,4.2,4.4,4.6,4.8,5,5.2,5.4,5.6,5.8,6,6.2,6.4,6.6],
  "labelExpr":"datum.value == 0 ? '0.0' : (abs(datum.value - round(datum.value)) < 0.001 ? format(datum.value, '.1f') + ' m' : '')",
  "labelFont":"DejaVu Sans Mono","labelFontSize":10,"labelColor":"black","labelPadding":6,"labelOverlap":false,"labelFlush":false,"labelBaseline":"middle",
  "grid":true,"gridDash":[1,1],"gridOpacity":1,
  "gridColor":{"condition":{"test":"abs(datum.value - round(datum.value)) < 0.001","value":"#ea8f8f"},"value":"#c4c4c4"},
  "tickSize":2,"tickColor":{"condition":{"test":"abs(datum.value - round(datum.value)) < 0.001","value":"#ea8f8f"},"value":"#b0b0b0"},
  "domainColor":"#444444",
  "title":"Seconds","titleFont":"DejaVu Sans Mono","titleFontSize":11.6,"titleFontWeight":"normal","titleColor":"black","titlePadding":10}},
"y2":{"field":"h"}
}
},
{
"data":{"name":"smoke"},
"mark":{"type":"area","interpolate":"step","color":"#ababab"},
"encoding":{
"x":{"field":"m","type":"quantitative",
 "axis":{"orient":"bottom","labels":false,"ticks":false,"domain":false,"grid":false,
  "title":"probe:\u00a0\u00a0\u00a0\u00a0\u00a0\u00a0\u00a020 ICMP Echo Pings (56 Bytes) every 300s\u00a0\u00a0\u00a0\u00a0\u00a0\u00a0\u00a0\u00a0\u00a0\u00a0\u00a0\u00a0\u00a0\u00a0\u00a0\u00a0\u00a0\u00a0Sun Feb\u00a0\u00a08 23:23:29 2026",
  "titleFont":"DejaVu Sans Mono","titleFontSize":11.6,"titleFontWeight":"normal","titleColor":"black","titleAlign":"left","titleAnchor":"start","titleBaseline":"alphabetic","titleX":-51,"titleY":72.5}},
"y":{"field":"l","type":"quantitative","axis":null},
"y2":{"field":"q"}
}
},
{
"data":{"name":"smoke"},
"mark":{"type":"area","interpolate":"step","color":"#707070"},
"encoding":{
"x":{"field":"m","type":"quantitative","axis":null},
"y":{"field":"a","type":"quantitative","axis":null},
"y2":{"field":"b"}
}
},
{
"data":{"name":"smoke"},
"mark":{"type":"line","interpolate":"step","color":"black","strokeWidth":1},
"encoding":{
"x":{"field":"m","type":"quantitative","axis":null},
"y":{"field":"d","type":"quantitative","axis":null}
}
},
{
"data":{"name":"smoke"},
"mark":{"type":"tick","orient":"horizontal","size":2,"thickness":2,"color":"#26ff00","opacity":1},
"encoding":{
"x":{"field":"m","type":"quantitative","axis":null},
"y":{"field":"d","type":"quantitative","axis":null}
}
},
{
"data":{"name":"loss"},
"mark":{"type":"point","shape":"square","filled":true,"size":7,"opacity":1},
"encoding":{
"x":{"field":"m","type":"quantitative","axis":null},
"y":{"field":"d","type":"quantitative","axis":null},
"color":{"field":"c","type":"nominal",
 "scale":{"domain":["0","1","2","3","4-5","6-10","11-19","20/20"],"range":["#26ff00","#00b8ff","#0059ff","#7e00ff","#ff00ff","#ff5500","#ff0000","#a10000"]},
 "legend":{"orient":"none","legendX":-51,"legendY":249.5,"direction":"horizontal","title":"loss color:","titleOrient":"left","titleFont":"DejaVu Sans Mono","titleFontSize":11.6,"titleFontWeight":"normal","titleColor":"black","titlePadding":15,"titleAnchor":"middle","titleBaseline":"middle","titleLimit":0,
  "symbolType":"square","symbolSize":81,"symbolStrokeWidth":1,"symbolStrokeColor":"black","symbolOpacity":1,"labelFont":"DejaVu Sans Mono","labelFontSize":11.6,"labelColor":"black","labelOffset":6,"columnPadding":11,"padding":0,
  "encode":{"symbols":{"update":{"stroke":{"value":"black"},"strokeWidth":{"value":1},"opacity":{"value":1}}}}}}
}
},
{
"data":{"name":"arrows"},
"mark":{"type":"point","filled":true,"size":36,"opacity":1,"color":"#8b1515"},
"encoding":{
"x":{"field":"m","type":"quantitative","axis":null},
"y":{"field":"y","type":"quantitative",
 "axis":{"orient":"right","labels":false,"ticks":false,"domain":false,"grid":false,"title":"RRDTOOL / TOBI OETIKER","titleFont":"DejaVu Sans Mono","titleFontSize":8.3,"titleFontWeight":"normal","titleColor":"#aaaaaa","titleAngle":90,"titleAlign":"left","titleBaseline":"middle","titleX":20,"titleY":-23}},
"shape":{"field":"s","type":"nominal","scale":null}
}
}
]
}
